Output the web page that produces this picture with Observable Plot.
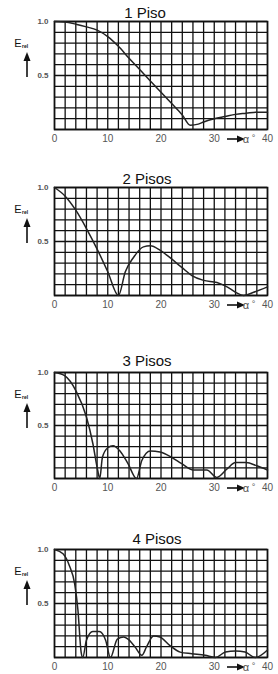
<!DOCTYPE html>
<html>
<head>
<meta charset="utf-8">
<script src="https://cdn.jsdelivr.net/npm/d3@7"></script>
<script src="https://cdn.jsdelivr.net/npm/@observablehq/plot@0.6"></script>
<style>
  html, body { margin: 0; padding: 0; background: #fff; }
  #wrap { position: relative; width: 278px; height: 674px; overflow: hidden; }
  #wrap svg { position: absolute; left: 0; }
</style>
</head>
<body>
<div id="wrap"></div>
<script>
// ---- data ----
const titles = ["1 Piso", "2 Pisos", "3 Pisos", "4 Pisos"];
const xTicks = [0, 10, 20, 30, 40];
const yTicks = [0.5, 1.0];
const xGrid = d3.range(0, 41, 2);
const yGrid = d3.range(0, 11).map(d => d / 10);

const angles1 = [0, 2, 4, 6, 8, 10, 12, 14, 16, 18, 20, 22, 24, 25.5, 27, 28, 30, 32, 34, 36, 38, 40];
const erel1   = [1.0, 0.995, 0.975, 0.95, 0.92, 0.86, 0.77, 0.66, 0.555, 0.45, 0.345, 0.24, 0.135, 0.04, 0.05, 0.07, 0.10, 0.12, 0.14, 0.15, 0.16, 0.16];

const angles2 = [0, 2, 4, 6, 8, 10, 12, 13.3, 14.8, 16.7, 18, 19.8, 21.7, 23.9, 25.8, 28, 30.5, 32.4, 34, 35.5, 37.4, 40];
const erel2   = [1.0, 0.92, 0.79, 0.62, 0.43, 0.22, 0.0, 0.22, 0.35, 0.45, 0.46, 0.42, 0.35, 0.26, 0.185, 0.14, 0.12, 0.08, 0.03, 0.0, 0.03, 0.08];

const angles3 = [0, 1.9, 4.1, 6, 7.2, 8.1, 8.5, 9, 10, 11, 12.3, 13.8, 15.4, 16.4, 18, 19.8, 22, 23.9, 26.1, 28.6, 30.5, 32.4, 34, 36, 38, 40];
const erel3   = [1.0, 0.97, 0.82, 0.58, 0.33, 0.08, 0.0, 0.2, 0.29, 0.31, 0.26, 0.14, 0.0, 0.17, 0.26, 0.25, 0.2, 0.14, 0.08, 0.08, 0.01, 0.09, 0.15, 0.15, 0.12, 0.08];

const angles4 = [0, 1.6, 2.8, 3.8, 4.4, 5.0, 5.3, 6.0, 7.2, 8.4, 9.6, 10.5, 11.8, 13, 13.8, 15.1, 16.4, 17.3, 18.6, 19.8, 21.7, 23.6, 25.8, 28.3, 30.2, 32.1, 34, 35.8, 37.7, 40];
const erel4   = [1.0, 0.96, 0.85, 0.68, 0.44, 0.05, 0.0, 0.16, 0.24, 0.24, 0.16, 0.0, 0.17, 0.19, 0.17, 0.1, 0.02, 0.1, 0.2, 0.19, 0.11, 0.05, 0.035, 0.02, 0.0, 0.05, 0.06, 0.05, 0.0, 0.07];

const series = [[angles1, erel1], [angles2, erel2], [angles3, erel3], [angles4, erel4]];

// ---- layout ----
const frameTops = [21, 187, 372, 549];
const frameHeights = [108, 108, 106, 108];
const titleDx = [-16, -14, -14, -4];
const titleDy = [-4, -4, -7, -6];
const M = {top: 21, left: 54, right: 11, bottom: 16};
const ink = "#111";
const gray = "#555";
const font = "Liberation Sans, Arial, sans-serif";

function annotations(index, scales, values, dims) {
  const g = d3.create("svg:g");
  const fl = dims.marginLeft;
  const ft = dims.marginTop;
  const fb = dims.height - dims.marginBottom;
  // E_rel label
  g.append("text").attr("x", fl - 36).attr("y", ft + 26)
    .attr("font-family", font).attr("font-size", 11).attr("fill", ink).text("E");
  g.append("text").attr("x", fl - 29).attr("y", ft + 27)
    .attr("font-family", font).attr("font-size", 5).attr("font-weight", "bold").attr("fill", ink).text("rel");
  // vertical arrow
  const ax = fl - 27;
  g.append("line").attr("x1", ax).attr("x2", ax).attr("y1", ft + 56).attr("y2", ft + 38)
    .attr("stroke", ink).attr("stroke-width", 1.6);
  g.append("path").attr("d", `M${ax - 3.5},${ft + 40}L${ax},${ft + 31}L${ax + 3.5},${ft + 40}Z`).attr("fill", ink);
  // horizontal arrow and alpha
  const ay = fb + 10;
  const x0 = dims.width - dims.marginRight - 40;
  g.append("line").attr("x1", x0).attr("x2", x0 + 12).attr("y1", ay).attr("y2", ay)
    .attr("stroke", ink).attr("stroke-width", 1.6);
  g.append("path").attr("d", `M${x0 + 10},${ay - 3.5}L${x0 + 18},${ay}L${x0 + 10},${ay + 3.5}Z`).attr("fill", ink);
  g.append("text").attr("x", x0 + 19).attr("y", ay + 3.5)
    .attr("font-family", font).attr("font-size", 11).attr("fill", gray).text("α");
  g.append("text").attr("x", x0 + 26.5).attr("y", ay + 2)
    .attr("font-family", font).attr("font-size", 9).attr("fill", gray).text("°");
  return g.node();
}

const wrap = document.getElementById("wrap");
series.forEach(([xs, ys], i) => {
  const data = xs.map((x, j) => ({angle: x, erel: ys[j]}));
  const h = frameHeights[i];
  const chart = Plot.plot({
    width: 278,
    height: M.top + h + M.bottom,
    marginTop: M.top, marginLeft: M.left, marginRight: M.right, marginBottom: M.bottom,
    style: {fontFamily: font, background: "transparent", overflow: "visible"},
    x: {domain: [0, 40], label: null},
    y: {domain: [0, 1], label: null},
    marks: [
      Plot.gridX(xGrid, {stroke: ink, strokeOpacity: 1, strokeWidth: 1.3}),
      Plot.gridY(yGrid, {stroke: ink, strokeOpacity: 1, strokeWidth: 1.3}),
      Plot.frame({stroke: ink, strokeWidth: 1.6}),
      Plot.line(data, {x: "angle", y: "erel", stroke: "#222", strokeWidth: 1.5, curve: "monotone-x"}),
      Plot.axisX(xTicks, {label: null, tickSize: 0, tickPadding: 5, fontSize: 10, fill: gray, tickFormat: d => String(d)}),
      Plot.axisY(yTicks, {label: null, tickSize: 0, tickPadding: 6, fontSize: 8, fontWeight: "bold", fill: gray, tickFormat: d => d.toFixed(1)}),
      Plot.text([titles[i]], {frameAnchor: "top", lineAnchor: "bottom", dx: titleDx[i], dy: titleDy[i], fontSize: 15, fill: ink, text: d => d}),
      annotations
    ]
  });
  chart.style.top = (frameTops[i] - M.top) + "px";
  wrap.appendChild(chart);
});
</script>
</body>
</html>
